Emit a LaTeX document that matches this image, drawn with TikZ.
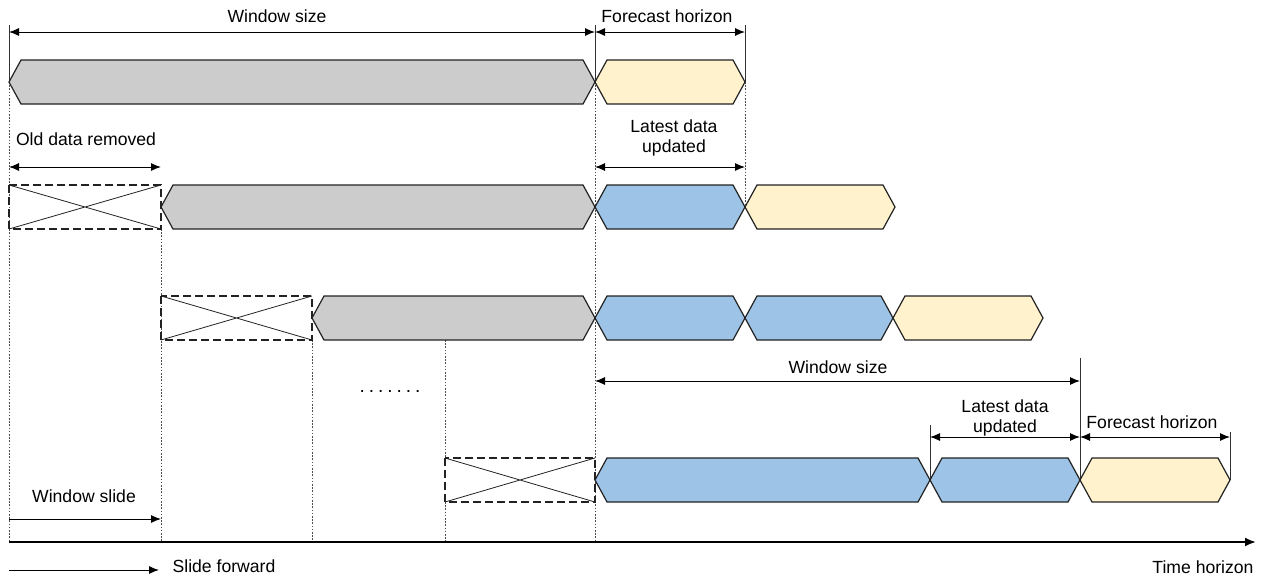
\documentclass[tikz,border=0pt]{standalone}
\usepackage{fontspec}
\setmainfont{Liberation Sans}
\usetikzlibrary{arrows.meta}

\definecolor{histgray}{HTML}{CCCCCC}
\definecolor{newblue}{HTML}{9DC3E6}
\definecolor{fcyellow}{HTML}{FFF2CC}
\definecolor{edge}{HTML}{222222}

% hexagonal time block: left tip x, right tip x, centre y, fill colour
\newcommand\hexbar[4]{%
  \draw[block,fill=#4] (#1,#3) -- (#1+12,#3-22) -- (#2-12,#3-22) -- (#2,#3)
    -- (#2-12,#3+22) -- (#1+12,#3+22) -- cycle;}
% removed segment: dashed box with a cross
\newcommand\dropbox[3]{%
  \draw[edge, line width=0.8] (#1,#3-22) -- (#2,#3+22) (#1,#3+22) -- (#2,#3-22);
  \draw[removed] (#1,#3-22) rectangle (#2,#3+22);}

\begin{document}
\begin{tikzpicture}[x=1pt,y=-1pt,
  block/.style={draw=edge,line width=1.2,line join=miter},
  removed/.style={draw=edge,line width=1.3,dash pattern=on 8 off 4},
  guide/.style={draw=black!70,line width=0.7,dash pattern=on 1.6 off 1.6},
  tick/.style={draw=black!80,line width=0.8},
  dim/.style={line width=1,{Latex[length=10,width=8]}-{Latex[length=10,width=8]}},
  fwd/.style={line width=1,-{Latex[length=10,width=8]}},
  lbl/.style={font=\fontsize{17.6}{20}\selectfont,inner sep=0,anchor=base,align=center}]
\useasboundingbox (0,0) rectangle (1263,582);

% reference points along the time axis
\coordinate (t0) at (9,0);
\coordinate (t1) at (161,0);
\coordinate (t2) at (312,0);
\coordinate (t3) at (445,0);
\coordinate (t4) at (595,0);
\coordinate (t5) at (745,0);
\coordinate (t6) at (930,0);
\coordinate (t7) at (1080,0);
\coordinate (t8) at (1230,0);

% dotted alignment guides
\draw[guide] (9,82) -- (9,542);
\draw[guide] (161,229) -- (161,542);
\draw[guide] (312,340) -- (312,542);
\draw[guide] (445,340) -- (445,458) (445,502) -- (445,542);
\draw[guide] (595,82) -- (595,542);
\draw[guide] (745,82) -- (745,207);

% solid extension lines of the dimension arrows
\draw[tick] (9,25) -- (9,82);
\draw[tick] (595,25) -- (595,82);
\draw[tick] (745,25) -- (745,82);
\draw[tick] (1080,358) -- (1080,480);
\draw[tick] (930,425) -- (930,480);
\draw[tick] (1230,432) -- (1230,480);

% row 1
\hexbar{9}{595}{82}{histgray}
\hexbar{595}{745}{82}{fcyellow}
% row 2
\dropbox{9}{161}{207}
\hexbar{161}{595}{207}{histgray}
\hexbar{595}{745}{207}{newblue}
\hexbar{745}{895}{207}{fcyellow}
% row 3
\dropbox{161}{312}{318}
\hexbar{312}{595}{318}{histgray}
\hexbar{595}{745}{318}{newblue}
\hexbar{745}{893}{318}{newblue}
\hexbar{893}{1043}{318}{fcyellow}
% row 4
\dropbox{445}{595}{480}
\hexbar{595}{930}{480}{newblue}
\hexbar{930}{1080}{480}{newblue}
\hexbar{1080}{1230}{480}{fcyellow}

% dimension arrows
\coordinate (wsA) at (9,32);   \coordinate (wsB) at (595,32);
\coordinate (fhA) at (595,32); \coordinate (fhB) at (745,32);
\coordinate (odA) at (9,167);  \coordinate (odB) at (161,167);
\coordinate (luA) at (595,167);\coordinate (luB) at (745,167);
\coordinate (wsC) at (595,381);\coordinate (wsD) at (1080,381);
\coordinate (luC) at (930,437);\coordinate (luD) at (1080,437);
\coordinate (fhC) at (1080,437);\coordinate (fhD) at (1230,437);
\draw[dim] (wsA) -- (wsB);
\draw[dim] (fhA) -- (fhB);
\draw[dim] (odA) -- (odB);
\draw[dim] (luA) -- (luB);
\draw[dim] (wsC) -- (wsD);
\draw[dim] (luC) -- (luD);
\draw[dim] (fhC) -- (fhD);

% labels (two-line labels sit on the baseline of their last line)
\node[lbl] (l1) at (277,22) {Window size};
\node[lbl] (l2) at (667,22) {Forecast horizon};
\node[lbl] (l3) at (86,145) {Old data removed};
\node[lbl] (l4) at (674,152) {Latest data\\updated};
\node[lbl] (l5) at (838,373) {Window size};
\node[lbl] (l6) at (1005,432) {Latest data\\updated};
\node[lbl] (l7) at (1152,428) {Forecast horizon};
\node[lbl] (l8) at (84,502) {Window slide};
\node[lbl] (l9) at (224,572) {Slide forward};
\node[lbl] (l10) at (1203,573) {Time horizon};

% ellipsis between rows 3 and 4
\node[lbl,font=\fontsize{19}{20}\selectfont] (dots) at (390,392) {.\kern4pt.\kern4pt.\kern4pt.\kern4pt.\kern4pt.\kern4pt.};

% window slide, time axis and legend arrow
\coordinate (wsl0) at (9,519);  \coordinate (wsl1) at (161,519);
\coordinate (ax0) at (9,542);   \coordinate (ax1) at (1256,542);
\coordinate (sf0) at (9,570);   \coordinate (sf1) at (159,570);
\draw[fwd] (wsl0) -- (wsl1);
\draw[line width=2,-{Latex[length=11,width=9]}] (ax0) -- (ax1);
\draw[fwd] (sf0) -- (sf1);
\end{tikzpicture}
\end{document}
